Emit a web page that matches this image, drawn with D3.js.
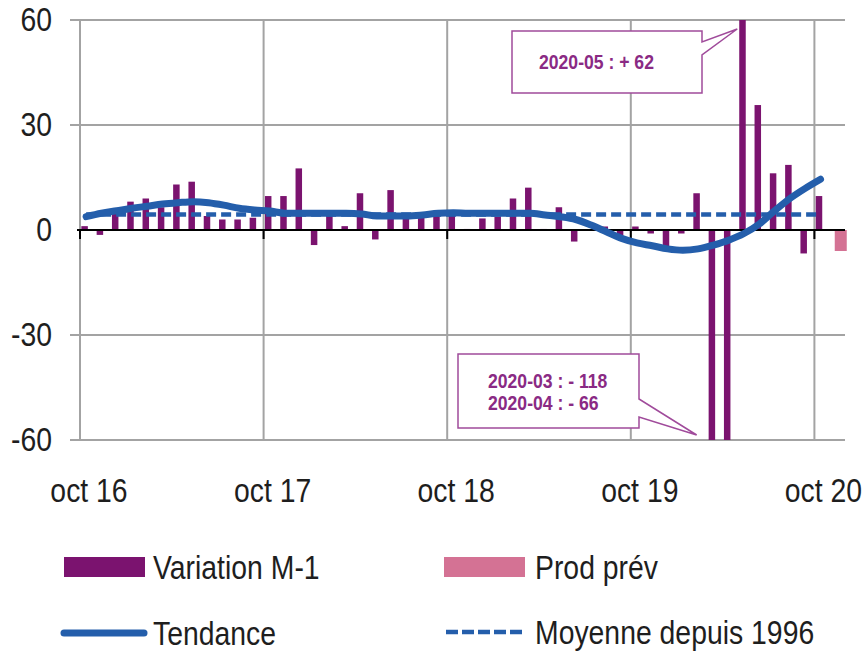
<!DOCTYPE html>
<html>
<head>
<meta charset="utf-8">
<script src="https://cdn.jsdelivr.net/npm/d3@7"></script>
<style>
  html, body { margin: 0; padding: 0; background: #fff; }
  svg { display: block; }
  text { font-family: "Liberation Sans", Arial, sans-serif; fill: #1e1e1e; }
</style>
</head>
<body>
<div id="chart"></div>
<script>
// months shown on the category axis (oct 2016 -> nov 2020)
const months = [
  "2016-10","2016-11","2016-12","2017-01","2017-02","2017-03","2017-04","2017-05","2017-06","2017-07","2017-08","2017-09",
  "2017-10","2017-11","2017-12","2018-01","2018-02","2018-03","2018-04","2018-05","2018-06","2018-07","2018-08","2018-09",
  "2018-10","2018-11","2018-12","2019-01","2019-02","2019-03","2019-04","2019-05","2019-06","2019-07","2019-08","2019-09",
  "2019-10","2019-11","2019-12","2020-01","2020-02","2020-03","2020-04","2020-05","2020-06","2020-07","2020-08","2020-09",
  "2020-10","2020-11"
];

// Variation M-1 (oct 2016 -> oct 2020)
const variation = [
  1.1, -1.4, 5, 8.1, 9, 6.5, 13, 13.8, 4, 3, 3, 3.5,
  9.7, 9.7, 17.6, -4.3, 5, 1.1, 10.5, -2.7, 11.4, 4, 4, 4.5,
  4.3, 0.3, 3.3, 3.8, 9, 12.1, 0.3, 6.5, -3.3, 0, 1, -2.7,
  1, -1, -4.8, -1, 10.5, -118, -66, 62, 35.7, 16.2, 18.6, -6.7,
  9.7
];

// Prod prév (forecast, nov 2020)
const prodPrevMonths = ["2020-11"];
const prodPrev = [-6];

// Tendance (oct 2016 -> oct 2020)
const tendance = [
  3.8, 4.8, 5.5, 6.2, 6.8, 7.4, 7.8, 8.1, 7.8, 7.1, 6.2, 5.7,
  5.4, 4.8, 4.8, 4.8, 4.8, 4.8, 4.6, 4.0, 4.0, 4.0, 4.3, 4.8,
  4.9, 4.8, 4.8, 4.8, 4.8, 4.8, 4.3, 3.8, 3.0, 1.4, -0.5, -2.4,
  -3.7, -4.5, -5.4, -5.8, -5.4, -4.3, -2.9, -1.0, 1.7, 5.5, 9.0, 11.9,
  14.5
];

// Moyenne depuis 1996
const moyenne = 4.4;

const yTicks = [-60, -30, 0, 30, 60];
const xTickMonths = ["2016-10", "2017-10", "2018-10", "2019-10", "2020-10"];
const xTickLabels = ["oct 16", "oct 17", "oct 18", "oct 19", "oct 20"];

const callouts = [
  { month: "2020-05", lines: ["2020-05 : + 62"] },
  { month: "2020-03", lines: ["2020-03 : - 118", "2020-04 : - 66"] }
];

const legendItems = [
  { label: "Variation M-1", kind: "bar", color: "#7b136f" },
  { label: "Prod prév", kind: "bar", color: "#d47294" },
  { label: "Tendance", kind: "line", color: "#245eab" },
  { label: "Moyenne depuis 1996", kind: "dash", color: "#245eab" }
];

const W = 865, H = 654;
const PLOT = { left: 80, right: 845, top: 20, bottom: 440 };
const PURPLE = "#7b136f", PINK = "#d47294", BLUE = "#245eab", GRID = "#a3a3a3";
const CALLOUT = "#a04b9b", CALLOUT_TEXT = "#8a2a84";
const NARROW = 0.86;   // squeeze text horizontally, the original font is a narrow one
const FS = 33;

const x = d3.scaleBand().domain(months).range([PLOT.left, PLOT.right]).padding(0);
const step = x.step();
const y = d3.scaleLinear().domain([-60, 60]).range([PLOT.bottom, PLOT.top]).clamp(true);

const BAR_W = 6.5;
const barCenter = m => x(m) + step * 0.3;
const lineX = m => x(m) + step * 0.4;

const place = (px, py, k = NARROW) => `translate(${px},${py}) scale(${k},1)`;

const svg = d3.select("#chart").append("svg")
  .attr("width", W).attr("height", H)
  .attr("viewBox", [0, 0, W, H]);

// horizontal gridlines (extend left as y ticks)
svg.append("g")
  .selectAll("line")
  .data(yTicks.filter(d => d !== 0))
  .join("line")
  .attr("x1", PLOT.left - 10).attr("x2", PLOT.right)
  .attr("y1", d => y(d)).attr("y2", d => y(d))
  .attr("stroke", GRID).attr("stroke-width", 2);

// vertical gridlines at each october
svg.append("g")
  .selectAll("line")
  .data(xTickMonths)
  .join("line")
  .attr("x1", d => x(d)).attr("x2", d => x(d))
  .attr("y1", y(60)).attr("y2", y(-60))
  .attr("stroke", GRID).attr("stroke-width", 2);

// y labels
svg.append("g")
  .selectAll("text")
  .data(yTicks)
  .join("text")
  .attr("transform", d => place(52, y(d)))
  .attr("text-anchor", "end")
  .attr("dominant-baseline", "central")
  .style("font-size", FS + "px")
  .text(d => d);

// variation bars
const varData = variation.map((v, i) => ({ m: months[i], v }));
svg.append("g")
  .selectAll("rect")
  .data(varData)
  .join("rect")
  .attr("x", d => barCenter(d.m) - BAR_W / 2)
  .attr("width", BAR_W)
  .attr("y", d => Math.min(y(d.v), y(0)))
  .attr("height", d => Math.abs(y(d.v) - y(0)))
  .attr("fill", PURPLE);

// forecast bar
svg.append("g")
  .selectAll("rect")
  .data(prodPrev.map((v, i) => ({ m: prodPrevMonths[i], v })))
  .join("rect")
  .attr("x", d => x(d.m) + step * 0.33)
  .attr("width", 12)
  .attr("y", d => Math.min(y(d.v), y(0)))
  .attr("height", d => Math.abs(y(d.v) - y(0)))
  .attr("fill", PINK);

// zero axis + ticks
svg.append("line")
  .attr("x1", PLOT.left - 3).attr("x2", PLOT.right)
  .attr("y1", y(0)).attr("y2", y(0))
  .attr("stroke", "#000").attr("stroke-width", 2);
svg.append("g")
  .selectAll("line")
  .data(xTickMonths)
  .join("line")
  .attr("x1", d => x(d)).attr("x2", d => x(d))
  .attr("y1", y(0)).attr("y2", y(0) + 9)
  .attr("stroke", "#000").attr("stroke-width", 2);

// moyenne dashed line
const tendData = tendance.map((v, i) => ({ m: months[i], v }));
svg.append("line")
  .attr("x1", lineX(months[0])).attr("x2", lineX(months[tendance.length - 1]) - 4)
  .attr("y1", y(moyenne)).attr("y2", y(moyenne))
  .attr("stroke", BLUE).attr("stroke-width", 4.5)
  .attr("stroke-dasharray", "10 5");

// tendance
svg.append("path")
  .datum(tendData)
  .attr("fill", "none")
  .attr("stroke", BLUE)
  .attr("stroke-width", 7)
  .attr("stroke-linecap", "round")
  .attr("stroke-linejoin", "round")
  .attr("d", d3.line().x(d => lineX(d.m)).y(d => y(d.v)).curve(d3.curveMonotoneX));

// x labels
svg.append("g")
  .selectAll("text")
  .data(xTickMonths)
  .join("text")
  .attr("transform", d => place(x(d) + 9, 502))
  .attr("text-anchor", "middle")
  .style("font-size", FS + "px")
  .text((d, i) => xTickLabels[i]);

// callouts
function calloutPath(box, tip, gapTop, gapBottom) {
  const p = d3.path();
  p.moveTo(box.x0, box.y0);
  p.lineTo(box.x1, box.y0);
  p.lineTo(box.x1, gapTop);
  p.lineTo(tip[0], tip[1]);
  p.lineTo(box.x1, gapBottom);
  p.lineTo(box.x1, box.y1);
  p.lineTo(box.x0, box.y1);
  p.closePath();
  return p.toString();
}

const c1 = callouts[0];
const box1 = { x0: 512, x1: 702, y0: 31, y1: 93 };
const tip1 = [barCenter(c1.month) - BAR_W / 2 - 2, y(60) + 9];
svg.append("path")
  .attr("d", calloutPath(box1, tip1, 42, 55))
  .attr("fill", "#fff").attr("stroke", CALLOUT).attr("stroke-width", 1.5);
svg.append("text")
  .attr("transform", place(539, 69, 0.88))
  .style("font-size", "20px").style("font-weight", "bold")
  .style("fill", CALLOUT_TEXT)
  .text(c1.lines[0]);

const c2 = callouts[1];
const box2 = { x0: 458, x1: 639, y0: 354, y1: 428 };
const tip2 = [barCenter(c2.month) - BAR_W / 2 - 12, y(-60) - 5];
svg.append("path")
  .attr("d", calloutPath(box2, tip2, 399, 417))
  .attr("fill", "#fff").attr("stroke", CALLOUT).attr("stroke-width", 1.5);
svg.append("g")
  .selectAll("text")
  .data(c2.lines)
  .join("text")
  .attr("transform", (d, i) => place(488, 388 + i * 22, 0.88))
  .style("font-size", "20px").style("font-weight", "bold")
  .style("fill", CALLOUT_TEXT)
  .text(d => d);

// legend
const legendPos = [
  { x: 64, y: 567 }, { x: 444, y: 567 },
  { x: 64, y: 633 }, { x: 444, y: 632 }
];
const lg = svg.append("g")
  .selectAll("g")
  .data(legendItems)
  .join("g")
  .attr("transform", (d, i) => `translate(${legendPos[i].x},${legendPos[i].y})`);

lg.filter(d => d.kind === "bar").append("rect")
  .attr("x", 0).attr("y", -10).attr("width", 81).attr("height", 20)
  .attr("fill", d => d.color);
lg.filter(d => d.kind === "line").append("line")
  .attr("x1", 0).attr("x2", 80).attr("y1", 0).attr("y2", 0)
  .attr("stroke", d => d.color).attr("stroke-width", 7).attr("stroke-linecap", "round");
lg.filter(d => d.kind === "dash").append("line")
  .attr("x1", 2).attr("x2", 82).attr("y1", 0).attr("y2", 0)
  .attr("stroke", d => d.color).attr("stroke-width", 4.5).attr("stroke-dasharray", "12 4");
lg.append("text")
  .attr("transform", (d, i) => place(i % 2 === 0 ? 89 : 91, 12))
  .style("font-size", FS + "px")
  .text(d => d.label);
</script>
</body>
</html>
